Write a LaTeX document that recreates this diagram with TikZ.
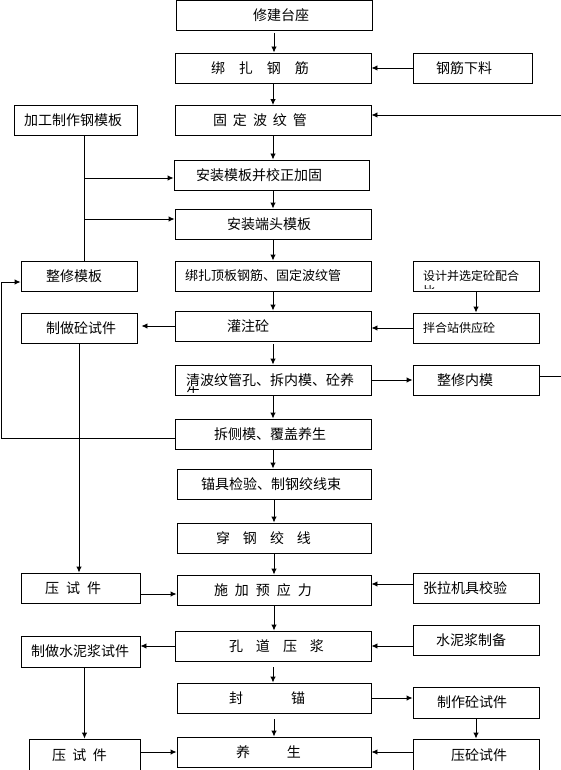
\documentclass[tikz,border=0pt]{standalone}
\usepackage{fontspec}
\newfontfamily\cjk{Noto Sans CJK SC}
\usetikzlibrary{arrows.meta}
\tikzset{
  box/.style={draw, inner sep=0pt, minimum height=30pt, align=left},
  arr/.style={-{Latex[length=6pt,width=5.5pt]}},
  smtext/.style={font=\cjk\fontsize{12pt}{14pt}\selectfont},
}

\begin{document}
\begin{tikzpicture}[x=1pt, y=-1pt, line width=0.9pt, font=\cjk\fontsize{14pt}{16pt}\selectfont]
\useasboundingbox (0,0) rectangle (560,770);

% main column
\node[box, text width=196pt] (xiujian) at (274,15.5) {\hspace*{77pt}修建台座};
\node[box, text width=196pt] (bangza) at (273,68) {\hspace*{36pt}绑\hspace{14pt}扎\hspace{14pt}钢\hspace{14pt}筋};
\node[box, text width=196pt] (bowen) at (273,120.5) {\hspace*{38pt}固\hspace{6pt}定\hspace{6pt}波\hspace{6pt}纹\hspace{6pt}管};
\node[box, text width=195pt] (anzhuang) at (271.5,175) {\hspace*{22pt}安装模板并校正加固};
\node[box, text width=196pt] (duantou) at (273,224) {\hspace*{52pt}安装端头模板};
\node[box, text width=196pt, font=\cjk\fontsize{13pt}{15pt}\selectfont] (dingban) at (273,276) {\hspace*{10pt}绑扎顶板钢筋、固定波纹管};
\node[box, text width=196pt] (guanzhu) at (273,326) {\hspace*{52pt}灌注砼};
\node[box, text width=196pt] (qing) at (273,380) {\hspace*{11pt}清波纹管孔、拆内模、砼养};
\node[box, text width=196pt] (chai) at (273,434) {\hspace*{39pt}拆侧模、覆盖养生};
\node[box, text width=194pt] (maoju) at (274,484) {\hspace*{24pt}锚具检验、制钢绞线束};
\node[box, text width=194pt] (chuan) at (274,538) {\hspace*{39pt}穿\hspace{13pt}钢\hspace{13pt}绞\hspace{13pt}线};
\node[box, text width=194pt] (shijia) at (274,590) {\hspace*{37pt}施\hspace{7pt}加\hspace{7pt}预\hspace{7pt}应\hspace{7pt}力};
\node[box, text width=196pt] (kongdao) at (273,646) {\hspace*{54pt}孔\hspace{13pt}道\hspace{13pt}压\hspace{13pt}浆};
\node[box, text width=194pt] (fengmao) at (274,698) {\hspace*{52pt}封\hspace{48pt}锚};
\node[box, text width=194pt] (yangsheng) at (274,752) {\hspace*{59pt}养\hspace{37pt}生};

% left column
\node[box, text width=123pt] (jiagong) at (75.5,120.5) {\hspace*{10pt}加工制作钢模板};
\node[box, text width=116pt] (zhengxiu) at (79,276) {\hspace*{25pt}整修模板};
\node[box, text width=116pt] (shijian) at (79,328) {\hspace*{25pt}制做砼试件};
\node[box, text width=119pt] (yaA) at (80.5,588) {\hspace*{24pt}压\hspace{7pt}试\hspace{7pt}件};
\node[box, text width=119pt, minimum height=31pt] (shuini) at (80.5,651.5) {\hspace*{10pt}制做水泥浆试件};
\node[box, text width=111pt, minimum height=32pt] (yaB) at (84.5,755) {\hspace*{23pt}压\hspace{6.5pt}试\hspace{6.5pt}件};

% right column
\node[box, text width=119pt] (xialiao) at (472.5,68) {\hspace*{23pt}钢筋下料};
\node[box, smtext, text width=126pt] (sheji) at (476,276) {\hspace*{10pt}设计并选定砼配合};
\node[box, smtext, text width=126pt] (banhe) at (476,328) {\hspace*{10pt}拌合站供应砼};
\node[box, text width=126pt] (neimo) at (476,380) {\hspace*{24pt}整修内模};
\node[box, text width=126pt] (zhangla) at (476,588) {\hspace*{10pt}张拉机具校验};
\node[box, text width=126pt] (zhibei) at (476,640.5) {\hspace*{23pt}水泥浆制备};
\node[box, text width=126pt, minimum height=31pt] (zhizuo) at (476,702.5) {\hspace*{24pt}制作砼试件};
\node[box, text width=126pt, minimum height=32pt] (yazhong) at (476,755) {\hspace*{38pt}压砼试件};

% second lines cut off by the boxes
\begin{scope}
  \clip (sheji.north west) rectangle ([yshift=3pt]sheji.south east);
  \node[smtext, inner sep=0pt, anchor=base west] (shejib) at (423,295) {比};
\end{scope}
\begin{scope}
  \clip (qing.north west) rectangle ([yshift=3pt]qing.south east);
  \node[inner sep=0pt, anchor=base west] (qingb) at (186,398) {生};
\end{scope}

\coordinate (ltrunk) at (84,0);
\coordinate (lloop) at (1,282);
\coordinate (rloop) at (590,115);

% main chain
\draw[arr, shorten <=2pt] (xiujian.south) -- (xiujian.south |- bangza.north);
\draw[arr] (bangza.south) -- (bangza.south |- bowen.north);
\draw[arr] (bowen.south) -- (bowen.south |- anzhuang.north);
\draw[arr] (duantou.north |- anzhuang.south) -- (duantou.north);
\draw[arr] (duantou.south) -- (duantou.south |- dingban.north);
\draw[arr] (dingban.south) -- (dingban.south |- guanzhu.north);
\draw[arr, shorten <=3pt] (guanzhu.south) -- (guanzhu.south |- qing.north);
\draw[arr] (qing.south) -- (qing.south |- chai.north);
\draw[arr] (chai.south) -- (chai.south |- maoju.north);
\draw[arr] (maoju.south) -- (maoju.south |- chuan.north);
\draw[arr] (chuan.south) -- (chuan.south |- shijia.north);
\draw[arr] (shijia.south) -- (shijia.south |- kongdao.north);
\draw[arr, shorten <=6pt] (kongdao.south) -- (kongdao.south |- fengmao.north);
\draw[arr, shorten <=6pt] (fengmao.south) -- (fengmao.south |- yangsheng.north);

% formwork
\draw (jiagong.south -| ltrunk) -- (zhengxiu.north -| ltrunk);
\draw[arr] ([yshift=-3pt]anzhuang.west -| ltrunk) -- ([yshift=-3pt]anzhuang.west);
\draw[arr] ([yshift=5pt]duantou.west -| ltrunk) -- ([yshift=5pt]duantou.west);
\draw[arr] ([yshift=-4pt]chai.west) -| (lloop) -- (lloop -| zhengxiu.west);
\draw[arr] ([yshift=4pt]neimo.east) -| (rloop) -- (rloop -| bowen.east);
\draw[arr] (qing.east) -- (qing.east -| neimo.west);

% feeds from the right
\draw[arr] (xialiao.west) -- (xialiao.west -| bangza.east);
\draw[arr] (sheji.south) -- (banhe.north);
\draw[arr] (banhe.west) -- (banhe.west -| guanzhu.east);
\draw[arr] ([yshift=4pt]zhangla.west) -- ([yshift=4pt]zhangla.west -| shijia.east);
\draw[arr] (zhibei.west |- kongdao.east) -- (kongdao.east);
\draw[arr] (fengmao.east) -- (fengmao.east -| zhizuo.west);
\draw[arr] (zhizuo.south) -- (yazhong.north);
\draw[arr] (yazhong.west |- yangsheng.east) -- (yangsheng.east);

% test pieces
\draw[arr, shorten >=4pt] (guanzhu.west) -- (guanzhu.west -| shijian.east);
\draw[arr] (shijian.south) -- (shijian.south |- yaA.north);
\draw[arr] ([yshift=-6pt]yaA.east) -- ([yshift=-6pt]yaA.east -| shijia.west);
\draw[arr] (kongdao.west) -- (kongdao.west -| shuini.east);
\draw[arr] (yaB.north |- shuini.south) -- (yaB.north);
\draw[arr] (yangsheng.west -| yaB.east) -- (yangsheng.west);

\end{tikzpicture}
\end{document}
